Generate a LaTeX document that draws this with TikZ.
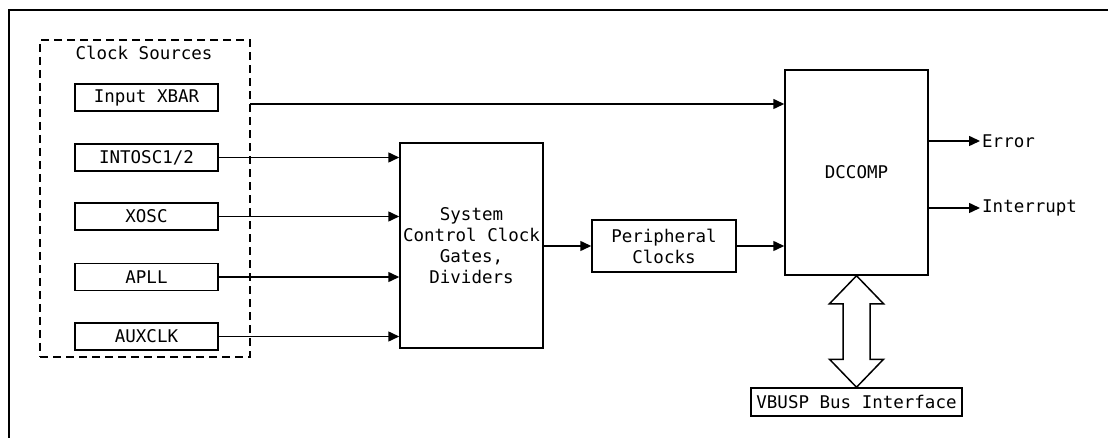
\documentclass[tikz,border=0pt]{standalone}
\usepackage{fontspec}
\usepackage{tikz}
\usetikzlibrary{arrows.meta, positioning, calc}
\newfontfamily\diagfont{DejaVu Sans Mono}
\tikzset{
  blk/.style={rectangle, draw=black, line width=1.5pt, fill=white,
              font=\diagfont\fontsize{17.5}{21}\selectfont, align=center,
              inner sep=0pt},
  src/.style={blk, minimum width=143pt, minimum height=27pt},
  grp/.style={rectangle, draw=black, line width=1.5pt,
              dash pattern=on 8pt off 5pt, inner sep=0pt},
  arr/.style={-{Triangle[length=11pt,width=10pt]}, line width=1.5pt},
  bus/.style={draw=black, line width=1.5pt, fill=white, line join=miter},
  lbl/.style={font=\diagfont\fontsize{17.5}{21}\selectfont, inner sep=2pt},
}

\begin{document}
\begin{tikzpicture}[x=1pt, y=-1pt]
  \useasboundingbox (0,0) rectangle (1108,438);
  \clip (0,0) rectangle (1108,438);
  % ── Frame ──────────────────────────────────────────────────────────────────
  \draw[line width=1.2pt] (9,10) rectangle (1130,460);

  % ── Clock sources ──────────────────────────────────────────────────────────
  \node[grp, minimum width=210pt, minimum height=317pt] at (145,198.5) (srcs) {};
  \node[lbl] at (144,53) (srcttl) {Clock Sources};
  \node[src] at (146.5, 97.5) (xbar)   {Input XBAR};
  \node[src] at (146.5,157.5) (intosc) {INTOSC1/2};
  \node[src] at (146.5,216.5) (xosc)   {XOSC};
  \node[src] at (146.5,277)   (apll)   {APLL};
  \node[src] at (146.5,336.5) (auxclk) {AUXCLK};
  \coordinate (xbarout) at (250,104);

  % ── Clock gating / peripheral clocks ───────────────────────────────────────
  \node[blk, minimum width=143pt, minimum height=205pt] at (471.5,245.5) (sysctl)
      {System\\Control Clock\\Gates,\\Dividers};
  \node[blk, minimum width=144pt, minimum height=52pt] at (664,246) (perclk)
      {Peripheral\\Clocks};

  % ── DCC module + bus ───────────────────────────────────────────────────────
  \node[blk, minimum width=143pt, minimum height=205pt] at (856.5,172.5) (dcc)
      {DCCOMP};
  \node[blk, minimum width=211pt, minimum height=28pt] at (856.5,402) (vbusp)
      {VBUSP Bus Interface};
  \node[lbl, anchor=west] at (980,141) (err) {Error};
  \node[lbl, anchor=west] at (980,208) (irq) {Interrupt};

  % ── Arrows ─────────────────────────────────────────────────────────────────
  \draw[arr] (xbarout) -- (xbarout -| dcc.west);
  \draw[arr] (intosc) -- (intosc -| sysctl.west);
  \draw[arr] (xosc)   -- (xosc -| sysctl.west);
  \draw[arr] (apll)   -- (apll -| sysctl.west);
  \draw[arr] (auxclk) -- (auxclk -| sysctl.west);
  \draw[arr] (sysctl.east |- perclk) -- (perclk.west);
  \draw[arr] (perclk) -- (perclk -| dcc.west);
  \draw[arr] (dcc.east |- err) -- (err.west);
  \draw[arr] (dcc.east |- irq) -- (irq.west);
  \draw[bus] (dcc.south) -- ++(27,28) -- ++(-13.5,0)
       -- ($(vbusp.north)+(13.5,-28)$) -- ++(13.5,0) -- (vbusp.north)
       -- ++(-27,-28) -- ++(13.5,0)
       -- ($(dcc.south)+(-13.5,28)$) -- ++(-13.5,0) -- cycle;
\end{tikzpicture}
\end{document}
